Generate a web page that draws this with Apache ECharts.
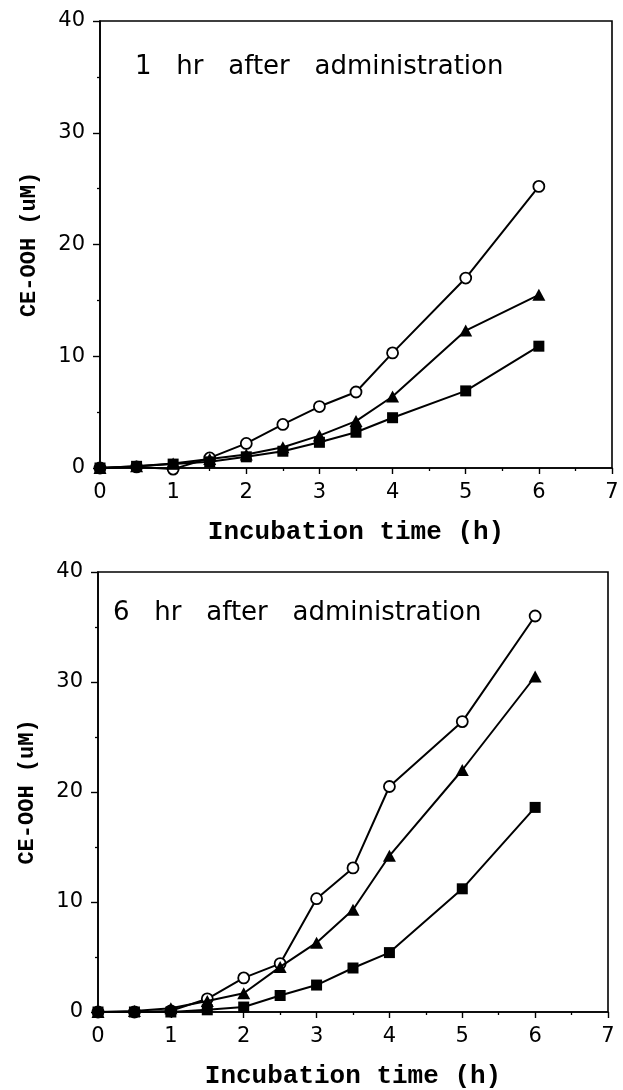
<!DOCTYPE html>
<html>
<head>
<meta charset="utf-8">
<script src="https://cdn.jsdelivr.net/npm/echarts@6/dist/echarts.min.js"></script>
<style>
html,body{margin:0;padding:0;background:#fff;}
#chart{width:623px;height:1090px;}
</style>
</head>
<body>
<div id="chart"></div>
<script>
// ---- data ----
var times = [0, 0.5, 1, 1.5, 2, 2.5, 3, 3.5, 4, 5, 6];

var hr1_circle   = [0, 0.1, -0.1, 0.9, 2.2, 3.9, 5.5, 6.8, 10.3, 17.0, 25.2];
var hr1_triangle = [0, 0.15, 0.4, 0.8, 1.2, 1.85, 2.9, 4.2, 6.4, 12.3, 15.5];
var hr1_square   = [0, 0.15, 0.35, 0.55, 1.0, 1.5, 2.3, 3.2, 4.5, 6.9, 10.9];

var hr6_circle   = [0, 0, 0.1, 1.2, 3.1, 4.4, 10.3, 13.1, 20.5, 26.4, 36.0];
var hr6_triangle = [0, 0.1, 0.35, 1.0, 1.7, 4.1, 6.3, 9.3, 14.2, 22.0, 30.5];
var hr6_square   = [0, 0, 0, 0.2, 0.45, 1.5, 2.45, 4.0, 5.4, 11.2, 18.6];

var panelTitles = ['1   hr   after   administration', '6   hr   after   administration'];
var xAxisTitle = 'Incubation time (h)';
var yAxisTitle = 'CE-OOH (uM)';

function pairs(xs, ys) { return xs.map(function (x, i) { return [x, ys[i]]; }); }

var tickFont = { fontFamily: 'DejaVu Sans', fontSize: 21, color: '#000' };
var nameFontX = { fontFamily: 'Liberation Mono', fontWeight: 'bold', fontSize: 26, color: '#000' };
var nameFontY = { fontFamily: 'Liberation Mono', fontWeight: 'bold', fontSize: 22, color: '#000' };

function makeX(gridIndex) {
  return {
    type: 'value', gridIndex: gridIndex, min: 0, max: 7, interval: 1,
    name: xAxisTitle, nameLocation: 'middle', nameGap: 51, nameTextStyle: nameFontX,
    axisLine: { show: true, lineStyle: { color: '#000', width: 1.6 } },
    axisTick: { show: true, length: 6, lineStyle: { color: '#000', width: 1.4 } },
    minorTick: { show: true, splitNumber: 2, length: 3, lineStyle: { color: '#000', width: 1.3 } },
    axisLabel: Object.assign({ margin: 14 }, tickFont),
    splitLine: { show: false }
  };
}
function makeY(gridIndex) {
  return {
    type: 'value', gridIndex: gridIndex, min: 0, max: 40, interval: 10,
    name: yAxisTitle, nameLocation: 'middle', nameGap: 60, nameRotate: 90, nameTextStyle: nameFontY,
    axisLine: { show: true, lineStyle: { color: '#000', width: 1.6 } },
    axisTick: { show: true, length: 7, lineStyle: { color: '#000', width: 1.4 } },
    minorTick: { show: true, splitNumber: 2, length: 3, lineStyle: { color: '#000', width: 1.3 } },
    axisLabel: Object.assign({ margin: 15 }, tickFont),
    splitLine: { show: false }
  };
}

function seriesFor(gridIndex, circ, tri, sq) {
  var base = { type: 'line', xAxisIndex: gridIndex, yAxisIndex: gridIndex, clip: false,
               lineStyle: { color: '#000', width: 2 }, animation: false };
  return [
    Object.assign({}, base, { name: 'open circle', data: pairs(times, circ), symbol: 'circle', symbolSize: 11,
      itemStyle: { color: '#fff', borderColor: '#000', borderWidth: 1.8 }, z: 2 }),
    Object.assign({}, base, { name: 'triangle', data: pairs(times, tri), symbol: 'triangle', symbolSize: [13, 12],
      itemStyle: { color: '#000', borderColor: '#000', borderWidth: 0 }, z: 3 }),
    Object.assign({}, base, { name: 'square', data: pairs(times, sq), symbol: 'rect', symbolSize: 11,
      itemStyle: { color: '#000', borderColor: '#000', borderWidth: 0 }, z: 4 })
  ];
}

var chart = echarts.init(document.getElementById('chart'), null, { renderer: 'canvas' });
chart.setOption({
  backgroundColor: '#fff',
  animation: false,
  title: [
    { text: panelTitles[0], left: 135, top: 54, padding: 0,
      textStyle: { fontFamily: 'DejaVu Sans', fontWeight: 'normal', fontSize: 26, color: '#000' } },
    { text: panelTitles[1], left: 113, top: 600, padding: 0,
      textStyle: { fontFamily: 'DejaVu Sans', fontWeight: 'normal', fontSize: 26, color: '#000' } }
  ],
  grid: [
    { left: 100, top: 21, width: 512, height: 447, show: true, borderColor: '#000', borderWidth: 1.6, backgroundColor: 'transparent' },
    { left: 98, top: 572, width: 510, height: 447, show: true, borderColor: '#000', borderWidth: 1.6, backgroundColor: 'transparent' }
  ],
  xAxis: [makeX(0), makeX(1)],
  yAxis: [makeY(0), makeY(1)],
  series: seriesFor(0, hr1_circle, hr1_triangle, hr1_square)
    .concat(seriesFor(1, hr6_circle, hr6_triangle, hr6_square))
});
</script>
</body>
</html>
